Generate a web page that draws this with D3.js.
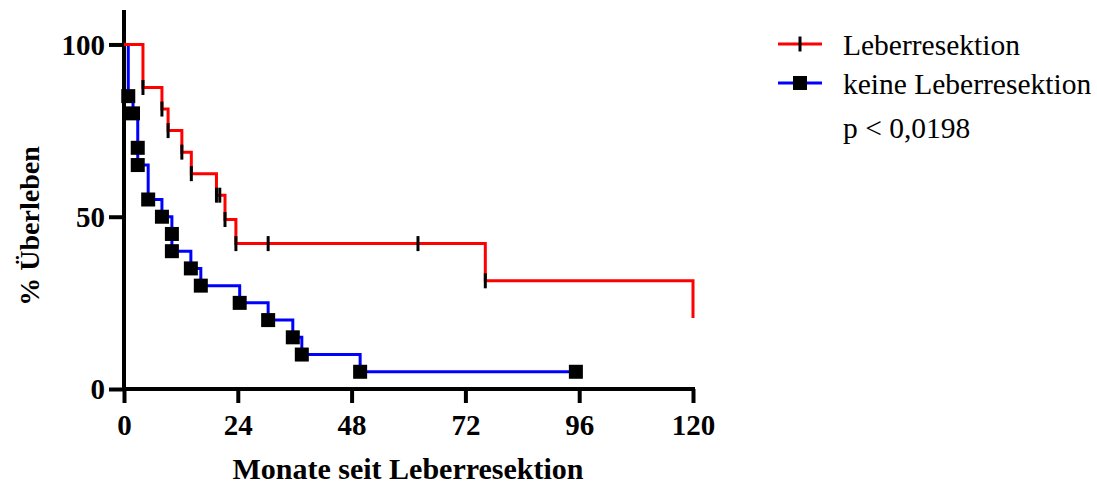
<!DOCTYPE html>
<html>
  <head>
    <meta charset="utf-8" />
    <title>Überleben nach Leberresektion</title>
    <script src="https://cdn.jsdelivr.net/npm/d3@7/dist/d3.min.js"></script>
    <style type="text/css">
      body { margin: 0; background: #fff; }
      text { font-family: "Liberation Serif", "Times New Roman", serif; fill: #000; }
    </style>
  </head>
  <body>
    <svg id="chart" width="1097" height="484"></svg>
    <script type="text/javascript">
      // Kaplan-Meier Daten
      var redTimes = [0, 4, 8, 9.3, 12.2, 14.2, 19.5, 21.3, 23.6, 76.2, 120];
      var redSurv = [100, 87.5, 81.25, 75, 68.75, 62.5, 56.25, 49.2, 42.2, 31.4, 20.6];
      var redCensor = [4, 8, 9.3, 12.2, 14.2, 19.5, 20.2, 21.3, 23.6, 30.4, 62, 76.2]; // zensiert

      var blueTimes = [0, 0.9, 1.9, 2.9, 2.9, 5.1, 8, 10.1, 10.1, 14.1, 16.2, 24.4, 30.4, 35.6, 37.5, 49.8, 95.3];
      var blueSurv = [100, 85, 80, 70, 65, 55, 50, 45, 40, 35, 30, 25, 20, 15, 10, 5, 5];

      var xTicks = [0, 24, 48, 72, 96, 120];
      var yTicks = [0, 50, 100];
      var legendLabels = ['Leberresektion', 'keine Leberresektion'];
      var pText = 'p < 0,0198';

      var svg = d3.select('#chart');
      var x = d3.scaleLinear().domain([0, 120]).range([124, 693]);
      var y = d3.scaleLinear().domain([0, 110]).range([389, 10]);

      var red = redTimes.map((t, i) => [t, redSurv[i]]);
      var blue = blueTimes.map((t, i) => [t, blueSurv[i]]);

      // Stufenfunktion: Wert zum Zeitpunkt t
      function survAt(pts, t) {
        var s = pts[0][1];
        pts.forEach((p) => { if (p[0] <= t) s = p[1]; });
        return s;
      }

      var line = d3.line().x((d) => x(d[0])).y((d) => y(d[1])).curve(d3.curveStepAfter);

      // Achsen
      var xAxis = svg.append('g').attr('transform', 'translate(0,389)')
        .call(d3.axisBottom(x).tickValues(xTicks).tickSize(14).tickPadding(11).tickSizeOuter(0));
      var yAxis = svg.append('g').attr('transform', 'translate(124,0)')
        .call(d3.axisLeft(y).tickValues(yTicks).tickSize(15).tickPadding(4).tickSizeOuter(0));

      [xAxis, yAxis].forEach((a) => {
        a.selectAll('path, line').attr('stroke', '#000').attr('stroke-width', 4);
        a.selectAll('text').style('font-size', '29px').style('font-weight', 'bold')
          .style('font-family', '"Liberation Serif", serif');
      });
      xAxis.select('.domain').attr('d', 'M' + (x(0) - 2) + ',0H' + (x(120) + 2));
      yAxis.select('.domain').attr('d', 'M0,' + y(110) + 'V' + (y(0) + 2));
      yAxis.selectAll('text').attr('dy', '0.34em');

      // Kurven
      svg.append('path').datum(blue).attr('d', line)
        .attr('fill', 'none').attr('stroke', '#0000ff').attr('stroke-width', 3);
      svg.append('path').datum(red).attr('d', line)
        .attr('fill', 'none').attr('stroke', '#ff0000').attr('stroke-width', 3);

      // Zensierungsstriche
      svg.selectAll('.cens').data(redCensor).enter().append('line')
        .attr('class', 'cens')
        .attr('x1', (d) => x(d)).attr('x2', (d) => x(d))
        .attr('y1', (d) => y(survAt(red, d)) - 7.5)
        .attr('y2', (d) => y(survAt(red, d)) + 7.5)
        .attr('stroke', '#000').attr('stroke-width', 3);

      // Symbole
      svg.selectAll('.sym').data(blue.slice(1)).enter().append('rect')
        .attr('class', 'sym')
        .attr('x', (d) => x(d[0]) - 7).attr('y', (d) => y(d[1]) - 7)
        .attr('width', 14).attr('height', 14).attr('fill', '#000');

      // Achsentitel
      svg.append('text').attr('x', 408).attr('y', 479).attr('text-anchor', 'middle')
        .style('font-size', '30px').style('font-weight', 'bold').text('Monate seit Leberresektion');
      svg.append('text').attr('transform', 'translate(39,226) rotate(-90)').attr('text-anchor', 'middle')
        .style('font-size', '28px').style('font-weight', 'bold').text('% Überleben');

      // Legende
      var lg = svg.append('g');
      var colors = ['#ff0000', '#0000ff'];
      var ly = [44, 83];
      legendLabels.forEach((lab, i) => {
        lg.append('line').attr('x1', 778).attr('x2', 822).attr('y1', ly[i]).attr('y2', ly[i])
          .attr('stroke', colors[i]).attr('stroke-width', 3);
        if (i === 0) {
          lg.append('line').attr('x1', 800).attr('x2', 800).attr('y1', ly[i] - 7.5).attr('y2', ly[i] + 7.5)
            .attr('stroke', '#000').attr('stroke-width', 3);
        } else {
          lg.append('rect').attr('x', 793).attr('y', ly[i] - 7).attr('width', 14).attr('height', 14).attr('fill', '#000');
        }
        lg.append('text').attr('x', 843).attr('y', ly[i] + 11).style('font-size', '29.5px').text(lab);
      });
      lg.append('text').attr('x', 843).attr('y', 138).style('font-size', '29.5px').text(pText);
    </script>
  </body>
</html>
